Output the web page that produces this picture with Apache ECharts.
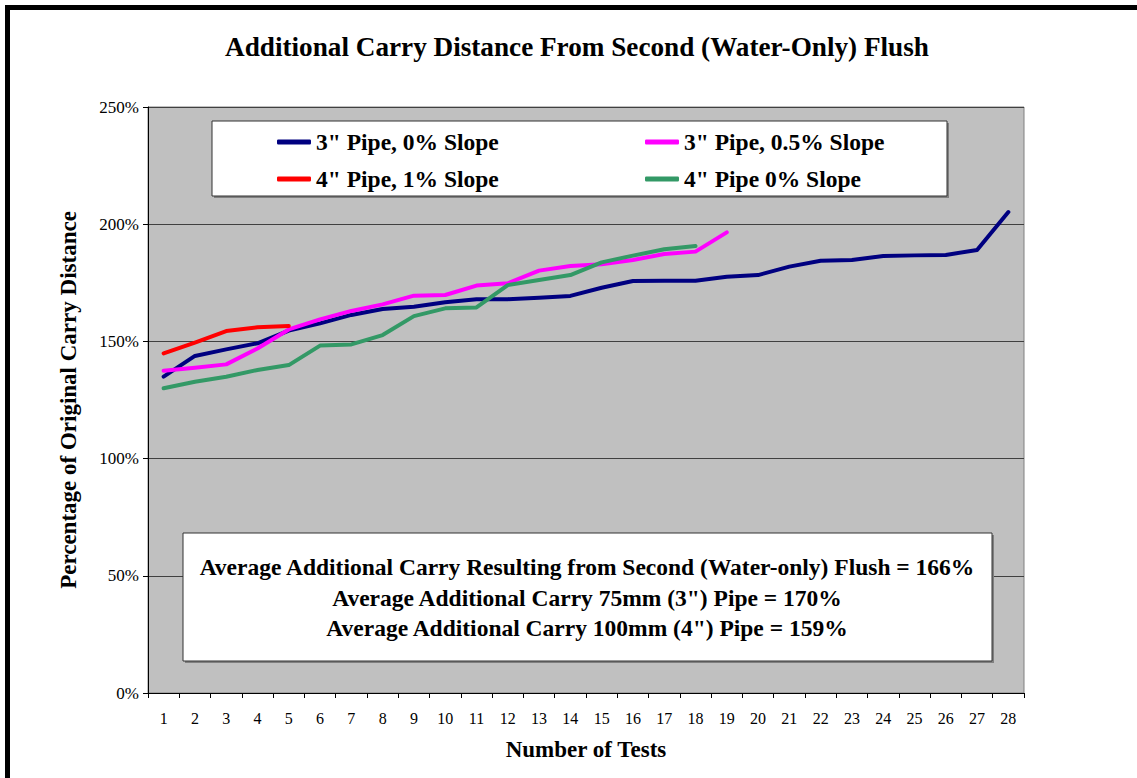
<!DOCTYPE html>
<html>
<head>
<meta charset="utf-8">
<script src="https://cdn.jsdelivr.net/npm/echarts@6/dist/echarts.min.js"></script>
<style>
  html, body { margin: 0; padding: 0; background: #fff; }
  #chart { width: 1137px; height: 778px; }
</style>
</head>
<body>
<div id="chart"></div>
<script>
// data (percent of original carry distance)
var tests = ['1', '2', '3', '4', '5', '6', '7', '8', '9', '10', '11', '12', '13', '14',
  '15', '16', '17', '18', '19', '20', '21', '22', '23', '24', '25', '26', '27', '28']
var pipe3Slope0 = [135, 143.8, 146.6, 149.2, 154.6, 157.7, 161.3, 163.8, 164.8, 166.7, 168, 168, 168.6, 169.4,
  172.9, 175.8, 175.9, 175.9, 177.6, 178.3, 181.9, 184.4, 184.7, 186.4, 186.7, 186.9, 189, 205.2]
var pipe3Slope05 = [137.5, 138.8, 140.2, 147, 155.1, 159.4, 163, 165.8, 169.5, 169.8, 173.8, 174.8, 180.2, 182.2,
  182.9, 184.7, 187.3, 188.3, 196.5]
var pipe4Slope1 = [144.9, 149.5, 154.4, 156, 156.6]
var pipe4Slope0 = [130, 132.8, 134.9, 137.8, 139.9, 148.2, 148.7, 152.7, 160.8, 164.1, 164.5, 174, 176.2, 178.3,
  183.7, 186.6, 189.3, 190.7]
var seriesNames = ['3" Pipe, 0% Slope', '3" Pipe, 0.5% Slope', '4" Pipe, 1% Slope', '4" Pipe 0% Slope']
var notes = [
  'Average Additional Carry Resulting from Second (Water-only) Flush = 166%',
  'Average Additional Carry 75mm (3") Pipe = 170%',
  'Average Additional Carry 100mm (4") Pipe = 159%'
]

var serif = 'Liberation Serif'

function lineSeries(name, data, color) {
  return {
    name: name,
    type: 'line',
    data: data,
    symbol: 'none',
    z: 3,
    lineStyle: { color: color, width: 4, cap: 'round', join: 'round' },
    itemStyle: { color: color }
  }
}

function legendItem(name, left, top) {
  return {
    data: [name],
    left: left,
    top: top,
    z: 20,
    icon: 'roundRect',
    itemWidth: 34,
    itemHeight: 5,
    itemGap: 0,
    textStyle: { fontFamily: serif, fontWeight: 'bold', fontSize: 23.5, color: '#000' }
  }
}

var chart = echarts.init(document.getElementById('chart'), null, { renderer: 'svg' })

var option = {
  backgroundColor: '#fff',
  animation: false,
  title: {
    text: 'Additional Carry Distance From Second (Water-Only) Flush',
    left: 572,
    textAlign: 'center',
    top: 28,
    textStyle: { fontFamily: serif, fontWeight: 'bold', fontSize: 27.2, color: '#000' }
  },
  grid: {
    left: 148, right: 113, top: 107, bottom: 85,
    show: true,
    backgroundColor: '#C0C0C0',
    borderColor: '#808080',
    borderWidth: 1
  },
  legend: [
    legendItem(seriesNames[0], 272, 125),
    legendItem(seriesNames[1], 640, 125),
    legendItem(seriesNames[2], 272, 162),
    legendItem(seriesNames[3], 640, 162)
  ],
  xAxis: {
    type: 'category',
    data: tests,
    boundaryGap: true,
    name: 'Number of Tests',
    nameLocation: 'middle',
    nameGap: 45,
    nameTextStyle: { fontFamily: serif, fontWeight: 'bold', fontSize: 23, color: '#000' },
    axisLine: { lineStyle: { color: '#000', width: 1 } },
    axisTick: { show: true, length: 5, lineStyle: { color: '#000' } },
    axisLabel: { margin: 17, fontFamily: serif, fontSize: 16, color: '#000', interval: 0 },
    splitLine: { show: false }
  },
  yAxis: {
    type: 'value',
    min: 0,
    max: 250,
    interval: 50,
    name: 'Percentage of Original Carry Distance',
    nameLocation: 'middle',
    nameGap: 68,
    nameTextStyle: { fontFamily: serif, fontWeight: 'bold', fontSize: 23, color: '#000' },
    axisLine: { show: true, lineStyle: { color: '#000', width: 1 } },
    axisTick: { show: true, length: 5, lineStyle: { color: '#000' } },
    axisLabel: { margin: 9, fontFamily: serif, fontSize: 17, color: '#000', formatter: '{value}%' },
    splitLine: { show: true, lineStyle: { color: '#404040', width: 1 } }
  },
  series: [
    lineSeries(seriesNames[0], pipe3Slope0, '#000080'),
    lineSeries(seriesNames[1], pipe3Slope05, '#FF00FF'),
    lineSeries(seriesNames[2], pipe4Slope1, '#FF0000'),
    lineSeries(seriesNames[3], pipe4Slope0, '#339966')
  ],
  graphic: [
    // page frame
    { type: 'rect', z: 30, shape: { x: 5, y: 5, width: 1132, height: 5 }, style: { fill: '#000' } },
    { type: 'rect', z: 30, shape: { x: 5, y: 5, width: 5, height: 773 }, style: { fill: '#000' } },
    // legend box
    { type: 'rect', z: 8, shape: { x: 214, y: 123, width: 735, height: 75 }, style: { fill: '#808080' } },
    { type: 'rect', z: 9, shape: { x: 212, y: 121, width: 735, height: 75 }, style: { fill: '#fff', stroke: '#333', lineWidth: 1 } },
    // notes box
    { type: 'rect', z: 8, shape: { x: 185, y: 535, width: 809, height: 128 }, style: { fill: '#808080' } },
    { type: 'rect', z: 9, shape: { x: 183, y: 533, width: 809, height: 128 }, style: { fill: '#fff', stroke: '#333', lineWidth: 1 } },
    { type: 'text', z: 10, style: { text: notes[0], x: 587, y: 567, align: 'center', verticalAlign: 'middle', font: 'bold 23.5px ' + serif, fill: '#000' } },
    { type: 'text', z: 10, style: { text: notes[1], x: 587, y: 598, align: 'center', verticalAlign: 'middle', font: 'bold 23.5px ' + serif, fill: '#000' } },
    { type: 'text', z: 10, style: { text: notes[2], x: 587, y: 628, align: 'center', verticalAlign: 'middle', font: 'bold 23.5px ' + serif, fill: '#000' } }
  ]
}

chart.setOption(option)
</script>
</body>
</html>
